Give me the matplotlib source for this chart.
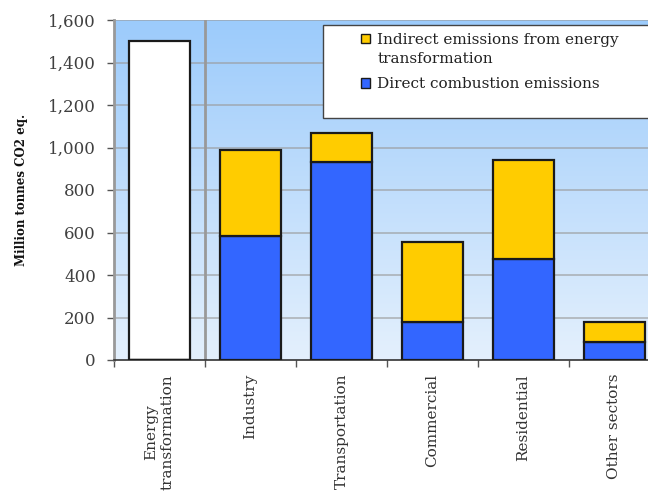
import numpy as np
import matplotlib
matplotlib.use("Agg")
import matplotlib.pyplot as plt
from matplotlib.patches import Patch, Rectangle
from matplotlib.legend_handler import HandlerPatch

# Sector emissions (million tonnes CO2 eq.)
categories = ["Energy\ntransformation", "Industry", "Transportation",
              "Commercial", "Residential", "Other sectors"]
energy_total = [1500, 0, 0, 0, 0, 0]
direct = [0, 585, 930, 181, 476, 86]
indirect = [0, 405, 140, 375, 466, 95]
yticks = [0, 200, 400, 600, 800, 1000, 1200, 1400, 1600]

SERIF = "DejaVu Serif"
BLUE = "#3366FF"
YELLOW = "#FFCC00"
EDGE = "#1a1a1a"
GRID = "#9a9a9a"

fig = plt.figure(figsize=(6.48, 4.95), dpi=100)
ax = fig.add_axes([114 / 648, 135 / 495, 546 / 648, 340 / 495])

x = np.arange(len(categories))
ax.set_xlim(-0.5, len(categories) - 0.5)
ax.set_ylim(0, 1600)

# vertical gradient background of the plot area
top_c = np.array([0x9C, 0xCB, 0xFB]) / 255
bot_c = np.array([0xE4, 0xF0, 0xFD]) / 255
t = np.linspace(0, 1, 256)[:, None]
grad = (top_c * (1 - t) + bot_c * t)[:, None, :]
ax.imshow(grad, extent=[-0.5, len(categories) - 0.5, 0, 1600],
          aspect="auto", origin="upper", zorder=0)

for yv in yticks[1:]:
    ax.axhline(yv, color=GRID, lw=1.1, alpha=0.75, zorder=1)
ax.axvline(0.5, color="#999999", lw=2.0, zorder=1)

w = 0.66
ax.bar(x, energy_total, width=w, color="white", edgecolor=EDGE,
       linewidth=1.6, zorder=3)
ax.bar(x, direct, width=w, color=BLUE, edgecolor=EDGE,
       linewidth=1.6, zorder=3)
ax.bar(x, indirect, width=w, bottom=direct, color=YELLOW, edgecolor=EDGE,
       linewidth=1.6, zorder=3)

# axes styling
for s in ["top", "right"]:
    ax.spines[s].set_visible(False)
ax.spines["left"].set_color("#999999")
ax.spines["left"].set_linewidth(2.0)
ax.spines["bottom"].set_color("#333333")
ax.spines["bottom"].set_linewidth(1.2)

ax.set_yticks(yticks)
ax.set_yticklabels([f"{v:,}" for v in yticks], fontfamily=SERIF,
                   fontsize=12, color="#404040")
ax.tick_params(axis="y", length=5, width=1.0, color="#555555", pad=8)

ax.set_xticks(x)
ax.set_xticklabels(categories, rotation=90, fontfamily=SERIF, fontsize=11,
                   color="#333333", multialignment="center")
ax.tick_params(axis="x", length=0, pad=10)
ax.set_xticks(np.arange(len(categories) + 1) - 0.5, minor=True)
ax.tick_params(axis="x", which="minor", length=5, width=1.0, color="#555555")

fig.text(22 / 648, 1 - 190 / 495, "Million tonnes CO2 eq.", rotation=90,
         ha="center", va="center", fontfamily=SERIF, fontweight="bold",
         fontsize=8.5, color="#111111")

# legend box
frame = Rectangle((323 / 648, 1 - 118 / 495), 400 / 648, 93 / 495,
                  transform=fig.transFigure, facecolor="white",
                  edgecolor="#444444", lw=1.0, zorder=5)
fig.patches.append(frame)


def top_square(legend, orig_handle, xdescent, ydescent, width, height,
               fontsize):
    extra = getattr(orig_handle, "_line_shift", 0.0) * fontsize
    return Rectangle((-xdescent, -ydescent + extra), width, height)


handles = [Patch(facecolor=YELLOW, edgecolor=EDGE, lw=1.0),
           Patch(facecolor=BLUE, edgecolor=EDGE, lw=1.0)]
handles[0]._line_shift = 0.7
handles[1]._line_shift = 0.0
labels = ["Indirect emissions from energy\ntransformation",
          "Direct combustion emissions"]
leg = fig.legend(handles, labels, loc="upper left",
                 bbox_to_anchor=(353 / 648, 1 - 25 / 495),
                 frameon=False, borderpad=0, handlelength=0.6,
                 handleheight=0.6, handletextpad=0.5, labelspacing=0.75,
                 prop={"family": SERIF, "size": 11},
                 handler_map={Patch: HandlerPatch(patch_func=top_square)})
leg.set_zorder(6)
for txt in leg.get_texts():
    txt.set_color("#222222")
    txt.set_linespacing(1.45)

fig.savefig("out.png", dpi=100)
